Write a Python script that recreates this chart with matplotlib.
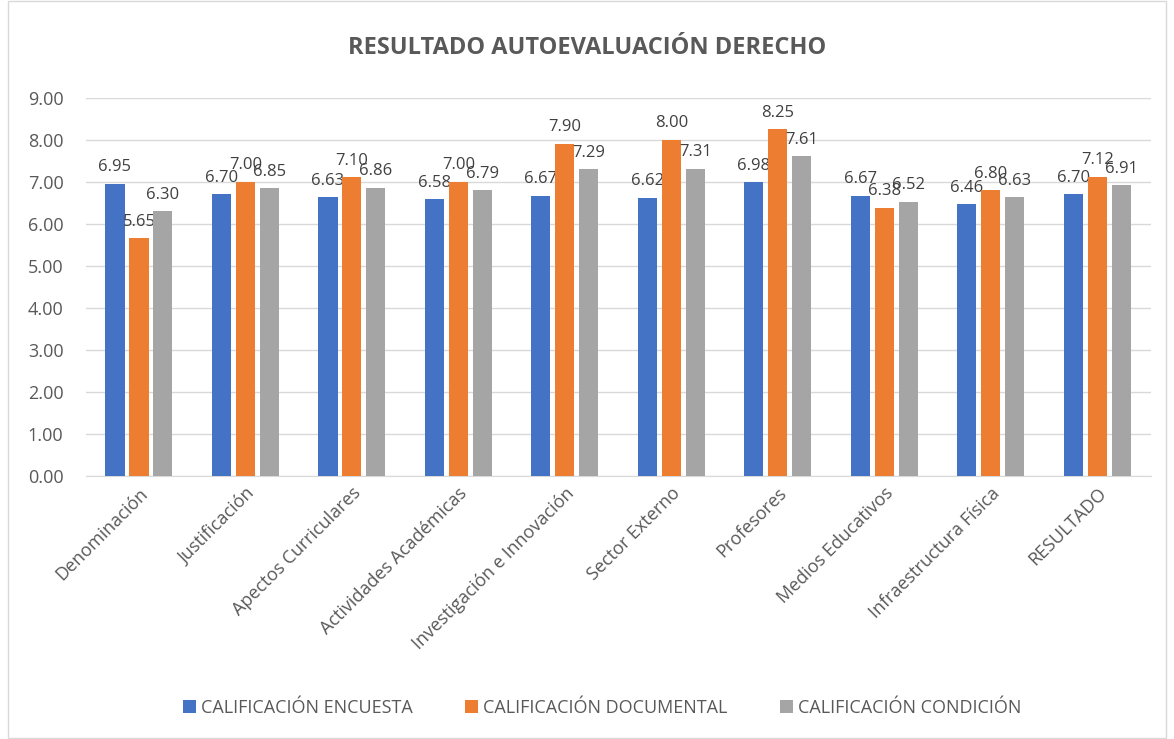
import numpy as np
import matplotlib.pyplot as plt
from matplotlib.patches import Rectangle

plt.rcParams['font.family'] = ['Open Sans', 'DejaVu Sans']

categorias = ['Denominación', 'Justificación', 'Apectos Curriculares',
              'Actividades Académicas', 'Investigación e Innovación',
              'Sector Externo', 'Profesores', 'Medios Educativos',
              'Infraestructura Física', 'RESULTADO']
encuesta = [6.95, 6.70, 6.63, 6.58, 6.67, 6.62, 6.98, 6.67, 6.46, 6.70]
documental = [5.65, 7.00, 7.10, 7.00, 7.90, 8.00, 8.25, 6.38, 6.80, 7.12]
condicion = [6.30, 6.85, 6.86, 6.79, 7.29, 7.31, 7.61, 6.52, 6.63, 6.91]

series = [
    ('CALIFICACIÓN ENCUESTA', encuesta, '#4472C4'),
    ('CALIFICACIÓN DOCUMENTAL', documental, '#ED7D31'),
    ('CALIFICACIÓN CONDICIÓN', condicion, '#A5A5A5'),
]

texto = '#595959'
fig = plt.figure(figsize=(11.74, 7.39), dpi=100)
ax = fig.add_axes([0.073, 0.356, 0.907, 0.512])

x = np.arange(len(categorias))
ancho = 0.18
paso = 0.225
for i, (nombre, valores, color) in enumerate(series):
    pos = x + (i - 1) * paso
    barras = ax.bar(pos, valores, ancho, color=color, label=nombre, zorder=3)
    for b, v in zip(barras, valores):
        ax.annotate(f'{v:.2f}', (b.get_x() + b.get_width() / 2, v),
                    xytext=(0, 6), textcoords='offset points',
                    ha='center', va='bottom', fontsize=12, color='#404040')

ax.set_xlim(-0.5, len(categorias) - 0.5)
ax.set_ylim(0, 9)
ax.set_yticks(np.arange(0, 9.01, 1))
ax.set_yticklabels([f'{t:.2f}' for t in np.arange(0, 9.01, 1)])
ax.grid(axis='y', color='#D9D9D9', linewidth=1, zorder=0)
for s in ['top', 'right', 'left']:
    ax.spines[s].set_visible(False)
ax.spines['bottom'].set_color('#D9D9D9')
ax.tick_params(axis='both', length=0, colors=texto, labelsize=13)
ax.tick_params(axis='y', pad=16)
ax.tick_params(axis='x', pad=6)
ax.set_xticks(x)
ax.set_xticklabels(categorias, rotation=45, ha='right', rotation_mode='anchor')

fig.text(0.5, 0.935, 'RESULTADO AUTOEVALUACIÓN DERECHO', ha='center', va='center',
         fontsize=17, fontweight='bold', color=texto)

fig.legend(loc='center', bbox_to_anchor=(0.513, 0.042), ncol=3, frameon=False,
           fontsize=13, handlelength=0.7, handleheight=0.7, handletextpad=0.3,
           columnspacing=2.9, labelcolor=texto)

fig.patches.append(Rectangle((0.007, 0.002), 0.986, 0.996, transform=fig.transFigure,
                             fill=False, edgecolor='#D9D9D9', linewidth=1))

fig.savefig('out.png', dpi=100, facecolor='white')
